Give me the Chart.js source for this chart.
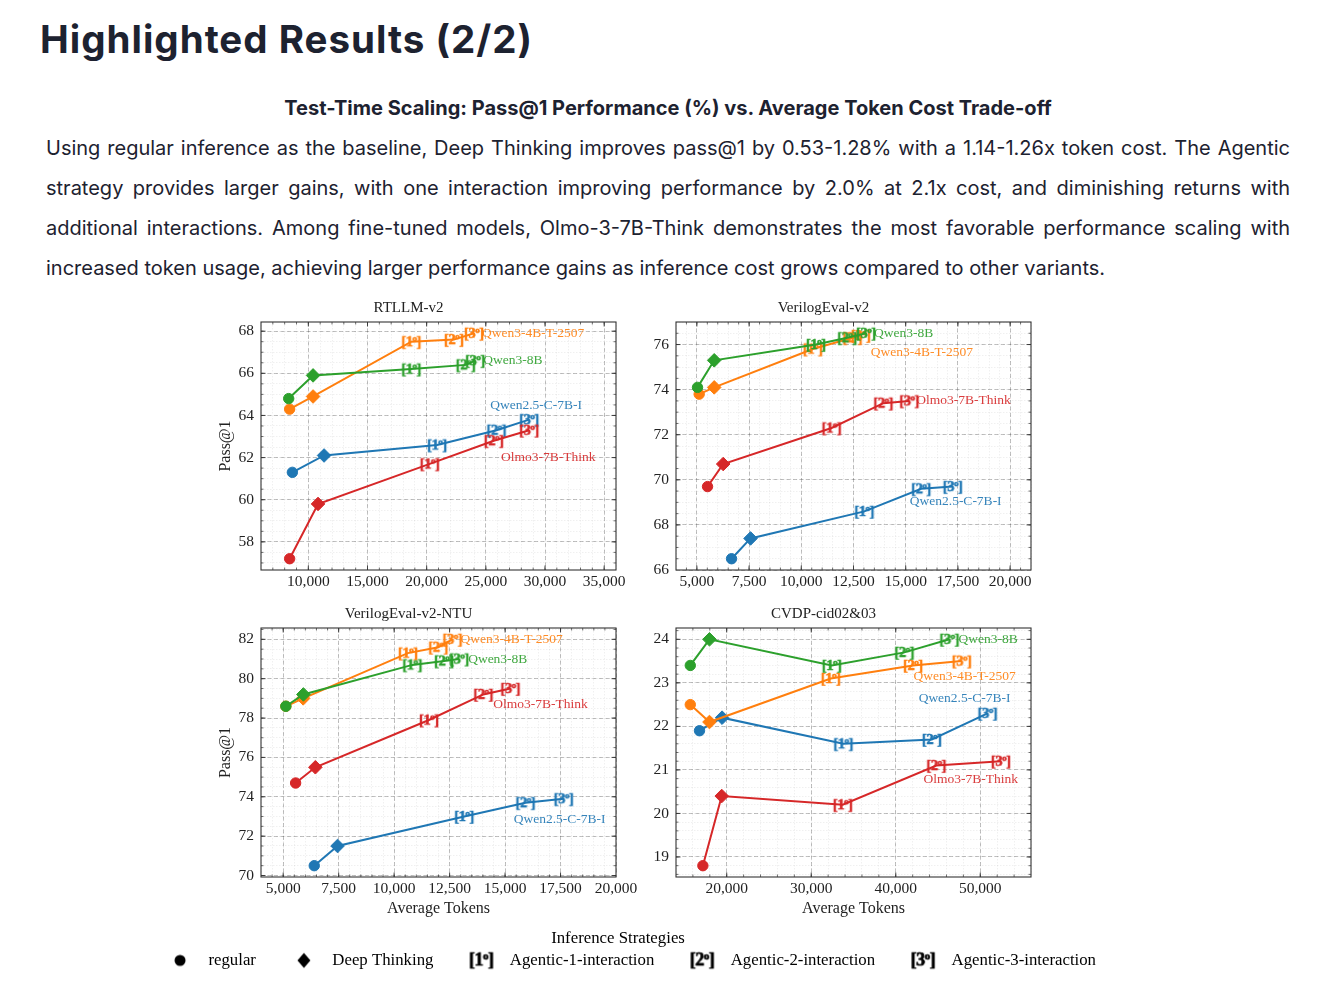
<!DOCTYPE html>
<html>
<head>
<meta charset="utf-8">
<script src="https://cdn.jsdelivr.net/npm/chart.js@4.4.1/dist/chart.umd.min.js"></script>
<style>
html,body{margin:0;padding:0;background:#fff;}
body{width:1321px;height:986px;position:relative;overflow:hidden;color:#1d2230;}
#title{position:absolute;left:40px;top:14px;margin:0;font:700 38.5px Inter,sans-serif;letter-spacing:1px;line-height:50px;white-space:nowrap;}
#subtitle{position:absolute;left:0;width:1336px;top:95px;text-align:center;font:700 20px Inter,sans-serif;line-height:26px;white-space:nowrap;}
#para{position:absolute;left:46px;width:1244px;top:128px;font:400 20px Inter,sans-serif;}
#para .ln{height:40px;line-height:40px;text-align:justify;text-align-last:justify;}
#para .ln.last{text-align-last:left;}
.box{position:absolute;}
.box canvas{display:block;}
</style>
</head>
<body>
<h1 id="title">Highlighted Results (2/2)</h1>
<div id="subtitle">Test-Time Scaling: Pass@1 Performance (%) vs. Average Token Cost Trade-off</div>
<div id="para">
<div class="ln">Using regular inference as the baseline, Deep Thinking improves pass@1 by 0.53-1.28% with a 1.14-1.26x token cost. The Agentic</div>
<div class="ln">strategy provides larger gains, with one interaction improving performance by 2.0% at 2.1x cost, and diminishing returns with</div>
<div class="ln">additional interactions. Among fine-tuned models, Olmo-3-7B-Think demonstrates the most favorable performance scaling with</div>
<div class="ln last">increased token usage, achieving larger performance gains as inference cost grows compared to other variants.</div>
</div>

<div class="box" style="left:201px;top:298px;width:445px;height:302px"><canvas id="c1"></canvas></div>
<div class="box" style="left:616px;top:298px;width:445px;height:302px"><canvas id="c2"></canvas></div>
<div class="box" style="left:201px;top:604px;width:445px;height:318px"><canvas id="c3"></canvas></div>
<div class="box" style="left:616px;top:604px;width:445px;height:318px"><canvas id="c4"></canvas></div>
<div class="box" style="left:-4px;top:930px;width:1244px;height:120px"><canvas id="leg"></canvas></div>

<script>
// ---------------- DATA ----------------
const MODELS = ['Qwen2.5-C-7B-I', 'Qwen3-4B-T-2507', 'Qwen3-8B', 'Olmo3-7B-Think'];
const STRATEGIES = ['regular', 'Deep Thinking', 'Agentic-1-interaction', 'Agentic-2-interaction', 'Agentic-3-interaction'];
const BENCHMARKS = ['RTLLM-v2', 'VerilogEval-v2', 'VerilogEval-v2-NTU', 'CVDP-cid02&03'];

// rows follow MODELS; columns follow STRATEGIES
const rtllmTokens = [
  [8650, 11330, 20880, 25900, 28660],
  [8420, 10400, 18700, 22300, 24000],
  [8340, 10400, 18700, 23300, 24100],
  [8420, 10820, 20260, 25670, 28660]
];
const rtllmPass = [
  [61.3, 62.1, 62.6, 63.3, 63.8],
  [64.3, 64.9, 67.5, 67.6, 67.9],
  [64.8, 65.9, 66.2, 66.4, 66.6],
  [57.2, 59.8, 61.7, 62.8, 63.3]
];
const verilogTokens = [
  [6660, 7570, 13020, 15740, 17250],
  [5110, 5830, 10550, 12450, 12850],
  [5030, 5830, 10700, 12200, 13100],
  [5510, 6260, 11450, 13930, 15170]
];
const verilogPass = [
  [66.5, 67.4, 68.6, 69.6, 69.7],
  [73.8, 74.1, 75.8, 76.3, 76.4],
  [74.1, 75.3, 76.0, 76.3, 76.5],
  [69.7, 70.7, 72.3, 73.4, 73.5]
];
const ntuTokens = [
  [6400, 7450, 13160, 15920, 17640],
  [5120, 5900, 10620, 11990, 12630],
  [5120, 5910, 10820, 12250, 12930],
  [5560, 6450, 11570, 14020, 15240]
];
const ntuPass = [
  [70.5, 71.5, 73.0, 73.7, 73.9],
  [78.6, 79.0, 81.3, 81.6, 82.0],
  [78.6, 79.2, 80.7, 80.9, 81.0],
  [74.7, 75.5, 77.9, 79.2, 79.5]
];
const cvdpTokens = [
  [16780, 19450, 33800, 44270, 50860],
  [15690, 17960, 32310, 42040, 47800],
  [15690, 17960, 32430, 41020, 46350],
  [17180, 19410, 33730, 44800, 52430]
];
const cvdpPass = [
  [21.9, 22.2, 21.6, 21.7, 22.3],
  [22.5, 22.1, 23.1, 23.4, 23.5],
  [23.4, 24.0, 23.4, 23.7, 24.0],
  [18.8, 20.4, 20.2, 21.1, 21.2]
];
// x-axis limits and tick steps (major, minor) per benchmark
const xLimits = [[6000, 36000], [4000, 21000], [4000, 20000], [14000, 56000]];
const xSteps = [[5000, 1000], [2500, 500], [2500, 500], [10000, 2000]];
const ySteps = [[2, 0.5], [2, 0.5], [2, 0.5], [1, 0.2]];

// ---------------- STYLE ----------------
const SERIF = '"Liberation Serif", "Times New Roman", serif';
const COLORS = ['#1f77b4', '#ff7f0e', '#2ca02c', '#d62728'];
const LABEL_COLORS = ['rgba(31,119,180,0.9)', 'rgba(255,127,14,0.9)', 'rgba(44,160,44,0.9)', 'rgba(214,39,40,0.9)'];
// placement of the model-name text relative to the last (Agentic-3) point, in px
const LABEL_PLACE = [
  [{dx: 7, dy: -14, a: 'center'}, {dx: 8, dy: 0, a: 'left'}, {dx: 8, dy: 0, a: 'left'}, {dx: 19, dy: 27, a: 'center'}],
  [{dx: 3, dy: 15, a: 'center'}, {dx: 10, dy: 17, a: 'left'}, {dx: 8, dy: 0, a: 'left'}, {dx: 7, dy: 0, a: 'left'}],
  [{dx: -4, dy: 21, a: 'center'}, {dx: 8, dy: 0, a: 'left'}, {dx: 9, dy: 0, a: 'left'}, {dx: 30, dy: 16, a: 'center'}],
  [{dx: -23, dy: -15, a: 'center'}, {dx: 3, dy: 15, a: 'center'}, {dx: 9, dy: 0, a: 'left'}, {dx: -30, dy: 18, a: 'center'}]
];

// text marker "[n°]" drawn onto a small canvas (used as a point style)
function textMarker(n, color, size, boxW, boxH, cx) {
  const big = 'bold ' + size + 'px ' + SERIF;
  const small = 'bold ' + Math.round(size * 0.62) + 'px ' + SERIF;
  const probe = document.createElement('canvas').getContext('2d');
  probe.font = big;
  const wl = probe.measureText('[').width, wn = probe.measureText(String(n)).width, wr = probe.measureText(']').width;
  probe.font = small;
  const wo = probe.measureText('o').width;
  const k = -0.5;
  const total = wl + wn + wo + wr + 3 * k;
  const W = boxW || Math.ceil(total) + 2;
  const H = boxH || Math.ceil(size * 1.25);
  const c = document.createElement('canvas');
  c.width = W; c.height = H;
  const ctx = c.getContext('2d');
  ctx.fillStyle = color;
  ctx.strokeStyle = color;
  ctx.lineWidth = size * 0.04;
  ctx.textBaseline = 'alphabetic';
  const base = H / 2 + size * 0.3;
  let x = (cx !== undefined ? cx : W / 2) - total / 2;
  const put = (t, px, py) => { ctx.fillText(t, px, py); ctx.strokeText(t, px, py); };
  ctx.font = big; put('[', x, base); x += wl + k;
  put(String(n), x, base); x += wn + k;
  ctx.font = small; put('o', x, base - size * 0.36); x += wo + k;
  ctx.font = big; put(']', x, base);
  return c;
}

function stepTicks(min, max, step) {
  const out = [];
  for (let k = Math.ceil(min / step - 1e-9); k * step <= max + 1e-9; k++) {
    out.push({value: Math.round(k * step * 1e6) / 1e6});
  }
  return out;
}
function yLimits(rows) {
  const all = rows.flat();
  const lo = Math.min(...all), hi = Math.max(...all);
  const m = (hi - lo) * 0.05;
  return [lo - m, hi + m];
}

const axesDecor = {
  id: 'axesDecor',
  afterDatasetsDraw(chart) {
    const ctx = chart.ctx, a = chart.chartArea;
    ctx.save();
    ctx.strokeStyle = '#333';
    const tickSets = [['x', 4.5, 0.9], ['xMinor', 2.5, 0.7], ['y', 4.5, 0.9], ['yMinor', 2.5, 0.7]];
    for (const [id, len, lw] of tickSets) {
      const s = chart.scales[id];
      if (!s) continue;
      ctx.lineWidth = lw;
      ctx.beginPath();
      for (const t of s.ticks) {
        const p = s.getPixelForValue(t.value);
        if (s.isHorizontal()) {
          if (p < a.left + 0.5 || p > a.right - 0.5) continue;
          ctx.moveTo(p, a.bottom); ctx.lineTo(p, a.bottom - len);
          ctx.moveTo(p, a.top); ctx.lineTo(p, a.top + len);
        } else {
          if (p < a.top + 0.5 || p > a.bottom - 0.5) continue;
          ctx.moveTo(a.left, p); ctx.lineTo(a.left + len, p);
          ctx.moveTo(a.right, p); ctx.lineTo(a.right - len, p);
        }
      }
      ctx.stroke();
    }
    ctx.lineWidth = 1.1;
    ctx.strokeStyle = '#333';
    ctx.strokeRect(a.left, a.top, a.right - a.left, a.bottom - a.top);
    // model name labels next to the last point of each series
    const place = chart.options.plugins.axesDecor.place;
    ctx.font = '13.5px ' + SERIF;
    ctx.textBaseline = 'middle';
    chart.data.datasets.forEach((ds, i) => {
      const meta = chart.getDatasetMeta(i);
      const el = meta.data[meta.data.length - 1];
      const p = place[i];
      ctx.fillStyle = LABEL_COLORS[i];
      ctx.textAlign = p.a;
      ctx.fillText(ds.label, el.x + p.dx, el.y + p.dy);
    });
    ctx.restore();
  }
};

const MARKERS = COLORS.map(c => [1, 2, 3].map(n => textMarker(n, c, 14.5)));

function buildChart(id, b, tokens, pass, leftCol, bottomRow) {
  const [xMin, xMax] = xLimits[b];
  const [xMaj, xMin2] = xSteps[b];
  const [yMaj, yMin2] = ySteps[b];
  const [yLo, yHi] = yLimits(pass);
  const tickFont = {family: SERIF, size: 15.5, lineHeight: '18px'};
  const majorGrid = {color: 'rgba(0,0,0,0.30)', lineWidth: 0.8, drawTicks: false, z: -1};
  const minorGrid = {color: 'rgba(0,0,0,0.10)', lineWidth: 0.6, drawTicks: false, z: -2};
  new Chart(document.getElementById(id), {
    type: 'scatter',
    data: {
      datasets: MODELS.map((m, i) => ({
        label: m,
        data: tokens[i].map((x, j) => ({x: x, y: pass[i][j]})),
        showLine: true,
        borderColor: COLORS[i],
        backgroundColor: COLORS[i],
        borderWidth: 2,
        pointStyle: ['circle', 'rectRot', MARKERS[i][0], MARKERS[i][1], MARKERS[i][2]],
        pointRadius: [5.2, 6.8, 8, 8, 8],
        pointBorderWidth: [1, 1, 0, 0, 0],
        pointBackgroundColor: COLORS[i],
        pointBorderColor: COLORS[i],
        order: MODELS.length - i
      }))
    },
    options: {
      responsive: true,
      maintainAspectRatio: false,
      animation: false,
      events: [],
      layout: {padding: {left: 0, right: 30, top: 0, bottom: 0}},
      plugins: {
        legend: {display: false},
        tooltip: {enabled: false},
        title: {display: true, text: BENCHMARKS[b], color: '#222',
                font: {family: SERIF, size: 15, weight: 'normal', lineHeight: '20px'},
                padding: {top: 0, bottom: 4}},
        axesDecor: {place: LABEL_PLACE[b]}
      },
      scales: {
        x: {
          type: 'linear', position: 'bottom', min: xMin, max: xMax,
          afterBuildTicks: s => { s.ticks = stepTicks(xMin, xMax, xMaj); },
          afterFit: s => { s.height = bottomRow ? 45 : 30; },
          ticks: {autoSkip: false, maxRotation: 0, padding: 3, color: '#222', font: tickFont,
                  callback: v => Number(v).toLocaleString('en-US')},
          grid: majorGrid,
          border: {display: false, dash: [4, 2.5]},
          title: {display: bottomRow, text: 'Average Tokens', color: '#222',
                  font: {family: SERIF, size: 16, lineHeight: '16px'}, padding: {top: 0, bottom: 5}}
        },
        xMinor: {
          type: 'linear', position: 'bottom', min: xMin, max: xMax,
          afterBuildTicks: s => { s.ticks = stepTicks(xMin, xMax, xMin2); },
          afterFit: s => { s.height = 0; },
          ticks: {display: false, autoSkip: false},
          grid: minorGrid,
          border: {display: false, dash: [1.5, 1.5]}
        },
        y: {
          type: 'linear', position: 'left', min: yLo, max: yHi,
          afterBuildTicks: s => { s.ticks = stepTicks(yLo, yHi, yMaj); },
          afterFit: s => { s.width = 60; },
          ticks: {autoSkip: false, padding: 7, color: '#222', font: tickFont,
                  callback: v => String(Math.round(v))},
          grid: majorGrid,
          border: {display: false, dash: [4, 2.5]},
          title: {display: leftCol, text: 'Pass@1', color: '#222',
                  font: {family: SERIF, size: 16, lineHeight: '16px'}, padding: {top: 17, bottom: 0}}
        },
        yMinor: {
          type: 'linear', position: 'left', min: yLo, max: yHi,
          afterBuildTicks: s => { s.ticks = stepTicks(yLo, yHi, yMin2); },
          afterFit: s => { s.width = 0; },
          ticks: {display: false, autoSkip: false},
          grid: minorGrid,
          border: {display: false, dash: [1.5, 1.5]}
        }
      }
    },
    plugins: [axesDecor]
  });
}

buildChart('c1', 0, rtllmTokens, rtllmPass, true, false);
buildChart('c2', 1, verilogTokens, verilogPass, false, false);
buildChart('c3', 2, ntuTokens, ntuPass, true, true);
buildChart('c4', 3, cvdpTokens, cvdpPass, false, true);

// ---------------- LEGEND ----------------
function shapeMarker(kind, boxW, boxH, cx) {
  const c = document.createElement('canvas');
  c.width = boxW; c.height = boxH;
  const ctx = c.getContext('2d');
  ctx.fillStyle = '#000';
  const cy = boxH / 2;
  ctx.beginPath();
  if (kind === 'circle') {
    ctx.arc(cx, cy, 5.5, 0, Math.PI * 2);
  } else {
    ctx.moveTo(cx, cy - 7.5); ctx.lineTo(cx + 6.5, cy); ctx.lineTo(cx, cy + 7.5); ctx.lineTo(cx - 6.5, cy); ctx.closePath();
  }
  ctx.fill();
  return c;
}
const LEG_W = 60, LEG_H = 24, LEG_CX = 40;
const LEGEND_STYLES = [
  shapeMarker('circle', LEG_W, LEG_H, LEG_CX),
  shapeMarker('diamond', LEG_W, LEG_H, LEG_CX),
  textMarker(1, '#000', 18, LEG_W, LEG_H, LEG_CX),
  textMarker(2, '#000', 18, LEG_W, LEG_H, LEG_CX),
  textMarker(3, '#000', 18, LEG_W, LEG_H, LEG_CX)
];

new Chart(document.getElementById('leg'), {
  type: 'scatter',
  data: {datasets: STRATEGIES.map(s => ({label: s, data: []}))},
  options: {
    responsive: true, maintainAspectRatio: false, animation: false, events: [],
    layout: {padding: 0},
    scales: {x: {display: false}, y: {display: false}},
    plugins: {
      tooltip: {enabled: false},
      legend: {
        display: true, position: 'top', align: 'center',
        title: {display: true, text: 'Inference Strategies', color: '#000',
                font: {family: SERIF, size: 16.8, lineHeight: '14px'}, padding: 0},
        labels: {
          usePointStyle: true, pointStyleWidth: LEG_W, padding: 8, color: '#000',
          font: {family: SERIF, size: 16.8},
          generateLabels: chart => chart.data.datasets.map((ds, i) => ({
            text: ds.label, pointStyle: LEGEND_STYLES[i], fillStyle: '#000', strokeStyle: '#000',
            lineWidth: 0, hidden: false, datasetIndex: i
          }))
        }
      }
    }
  }
});
</script>
</body>
</html>
